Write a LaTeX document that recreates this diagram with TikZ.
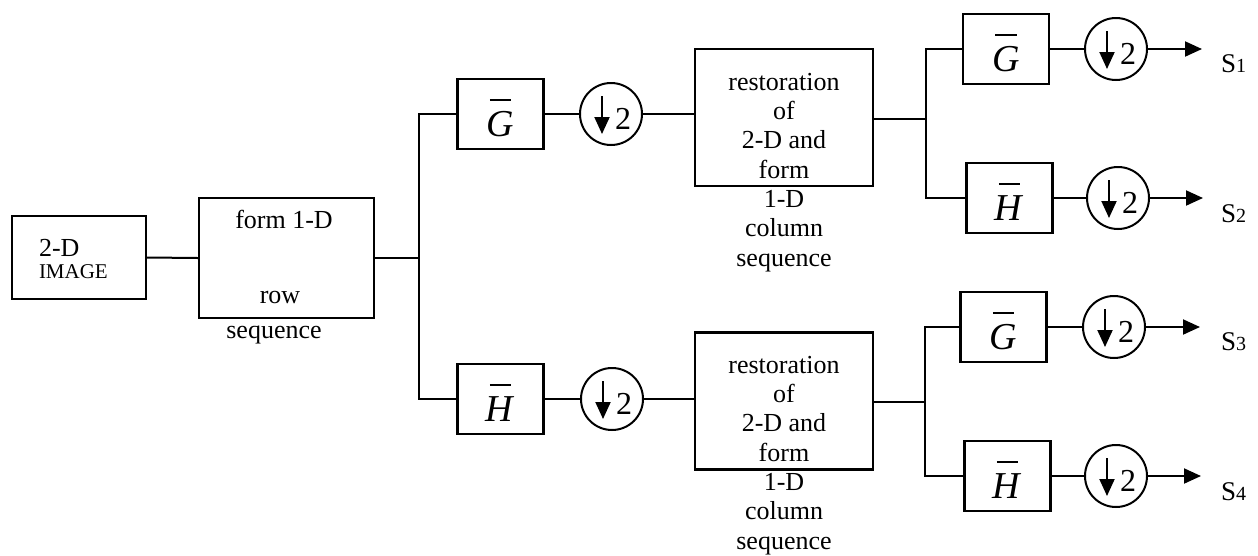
\documentclass[tikz,border=0pt]{standalone}
\usepackage{fontspec}
\setmainfont{Liberation Serif}
\usetikzlibrary{arrows.meta}
\newcommand{\barred}[1]{\ooalign{\textit{#1}\cr\hidewidth\raisebox{0.93em}{\rule{0.56em}{0.05em}}\hidewidth\cr}}
\begin{document}
\begin{tikzpicture}[x=1pt,y=-1pt,line width=2pt,
  blk/.style={draw, line width=2.4pt, inner sep=0pt},
  filt/.style={blk, minimum width=86pt, minimum height=70pt, text height=45pt, text depth=0pt, font=\fontsize{38}{40}\selectfont},
  restbox/.style={blk, minimum width=178pt, minimum height=137pt},
  txt/.style={font=\fontsize{26}{29.3}\selectfont, align=center, inner sep=0pt},
  dsamp/.style={draw, circle, line width=2pt, minimum size=62pt, inner sep=0pt,
     path picture={\draw[line width=2pt, -{Triangle[length=17pt,width=15pt]}]
        ([xshift=-9pt,yshift=18pt]path picture bounding box.center) -- ++(0,38);},
     label={[font=\fontsize{32}{32}\selectfont, inner sep=0pt, xshift=12pt, yshift=-5pt]center:2}},
  outarr/.style={-{Triangle[length=17pt,width=15pt]}},
  slab/.style={anchor=base west, inner sep=0pt, font=\fontsize{27}{27}\selectfont}
]
\fill[white] (0,0) rectangle (1258,555);
\useasboundingbox (0,0) rectangle (1258,555);

% input
\node[blk, minimum width=134pt, minimum height=83pt] (img) at (79,257.5) {};
\node[txt, anchor=west] (imgt1) at (38,247.5) {2-D};
\node[txt, anchor=west, font=\fontsize{21}{21}\selectfont] (imgt2) at (38,272) {IMAGE};

\node[blk, minimum width=175pt, minimum height=120pt] (form) at (286.5,258) {};
\node[txt, anchor=base] (formt1) at (284,228) {form 1-D};
\node[txt, anchor=base] (formt2) at (280,303) {row};
\node[txt, anchor=base] (formt3) at (274,338.5) {sequence};

% first stage
\coordinate (b1) at (419,258);
\node[filt] (G1) at (500.5,114) {\barred{G}};
\node[dsamp] (c1) at (611,114) {};
\node[restbox] (rest1) at (784,117.5) {};
\node[txt, anchor=north] (rest1t) at (784,72) {restoration\\of\\2-D and\\form\\1-D\\column\\sequence};

\node[filt] (H1) at (500.5,399) {\barred{H}};
\node[dsamp] (c4) at (612,399) {};
\node[restbox] (rest2) at (784,401) {};
\node[txt, anchor=north] (rest2t) at (784,355) {restoration\\of\\2-D and\\form\\1-D\\column\\sequence};

% second stage, upper
\coordinate (b2) at (926,118.5);
\node[filt] (G2) at (1006,49) {\barred{G}};
\node[dsamp] (c2) at (1116,49) {};
\coordinate (a1) at (1202,49);
\node[slab] (s1) at (1220,72) {S{\fontsize{20}{20}\selectfont 1}};

\node[filt] (H2) at (1009.5,198) {\barred{H}};
\node[dsamp] (c3) at (1118,198) {};
\coordinate (a2) at (1203,198);
\node[slab] (s2) at (1220,222) {S{\fontsize{20}{20}\selectfont 2}};

% second stage, lower
\coordinate (b3) at (925,402);
\node[filt] (G3) at (1003.5,327) {\barred{G}};
\node[dsamp] (c5) at (1114,327) {};
\coordinate (a3) at (1200,327);
\node[slab] (s3) at (1220,350) {S{\fontsize{20}{20}\selectfont 3}};

\node[filt] (H3) at (1007.5,476) {\barred{H}};
\node[dsamp] (c6) at (1116,476) {};
\coordinate (a4) at (1201,476);
\node[slab] (s4) at (1220,500) {S{\fontsize{20}{20}\selectfont 4}};

% connectors
\draw (img.east) -- (form.west);
\draw (form.east) -- (b1);
\draw (G1.west) -| (b1) |- (H1.west);
\draw (G1.east) -- (c1.west);
\draw (c1.east) -- (c1.east -| rest1.west);
\draw (H1.east) -- (c4.west);
\draw (c4.east) -- (c4.east -| rest2.west);

\draw (rest1.east |- b2) -- (b2);
\draw (G2.west) -| (b2) |- (H2.west);
\draw (G2.east) -- (c2.west);
\draw[outarr] (c2.east) -- (a1);
\draw (H2.east) -- (c3.west);
\draw[outarr] (c3.east) -- (a2);

\draw (rest2.east |- b3) -- (b3);
\draw (G3.west) -| (b3) |- (H3.west);
\draw (G3.east) -- (c5.west);
\draw[outarr] (c5.east) -- (a3);
\draw (H3.east) -- (c6.west);
\draw[outarr] (c6.east) -- (a4);
\end{tikzpicture}
\end{document}
